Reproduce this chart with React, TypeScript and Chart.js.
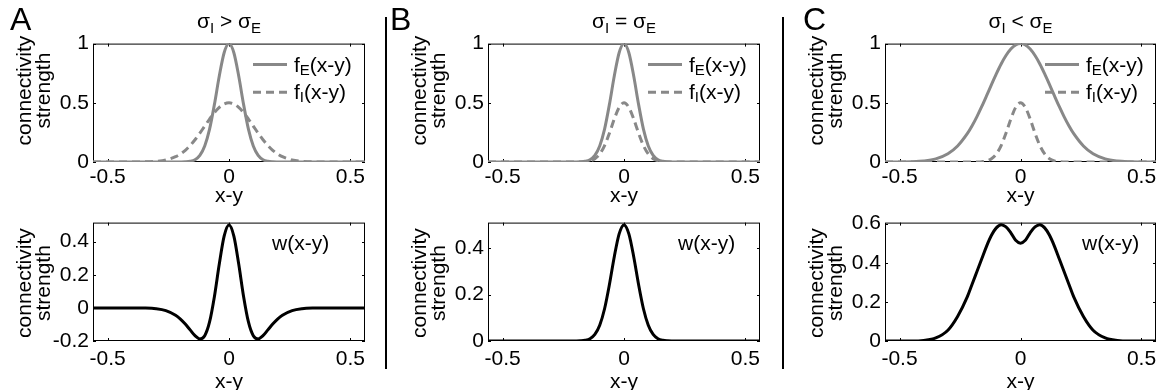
import React, { useEffect, useRef } from 'react';
import { Chart, registerables } from 'chart.js';

Chart.register(...registerables);

// ---------- data ----------
const xValues = [-0.56, -0.5, -0.45, -0.4, -0.35, -0.3, -0.26, -0.22, -0.2, -0.18, -0.16, -0.14, -0.12, -0.1, -0.08, -0.06, -0.04, -0.02, 0, 0.02, 0.04, 0.06, 0.08, 0.1, 0.12, 0.14, 0.16, 0.18, 0.2, 0.22, 0.26, 0.3, 0.35, 0.4, 0.45, 0.5, 0.56];

// Panel A (sigma_I > sigma_E)
const fE_A = [0, 0, 0, 0, 0, 0, 0, 0, 0.0003, 0.0015, 0.006, 0.0198, 0.0561, 0.1353, 0.278, 0.4868, 0.7261, 0.9231, 1, 0.9231, 0.7261, 0.4868, 0.278, 0.1353, 0.0561, 0.0198, 0.006, 0.0015, 0.0003, 0, 0, 0, 0, 0, 0, 0, 0];
const fI_A = [0, 0, 0, 0.0002, 0.0011, 0.0056, 0.017, 0.0445, 0.0677, 0.099, 0.139, 0.1877, 0.2434, 0.3033, 0.3631, 0.4177, 0.4616, 0.4901, 0.5, 0.4901, 0.4616, 0.4177, 0.3631, 0.3033, 0.2434, 0.1877, 0.139, 0.099, 0.0677, 0.0445, 0.017, 0.0056, 0.0011, 0.0002, 0, 0, 0];
const w_A = [0, 0, 0, -0.0002, -0.0011, -0.0056, -0.017, -0.0445, -0.0674, -0.0975, -0.133, -0.1679, -0.1873, -0.168, -0.0851, 0.0691, 0.2645, 0.433, 0.5, 0.433, 0.2645, 0.0691, -0.0851, -0.168, -0.1873, -0.1679, -0.133, -0.0975, -0.0674, -0.0445, -0.017, -0.0056, -0.0011, -0.0002, 0, 0, 0];

// Panel B (sigma_I = sigma_E)
const fE_B = [0, 0, 0, 0, 0, 0, 0, 0, 0.0003, 0.0015, 0.006, 0.0198, 0.0561, 0.1353, 0.278, 0.4868, 0.7261, 0.9231, 1, 0.9231, 0.7261, 0.4868, 0.278, 0.1353, 0.0561, 0.0198, 0.006, 0.0015, 0.0003, 0, 0, 0, 0, 0, 0, 0, 0];
const fI_B = [0, 0, 0, 0, 0, 0, 0, 0, 0.0002, 0.0008, 0.003, 0.0099, 0.0281, 0.0677, 0.139, 0.2434, 0.3631, 0.4616, 0.5, 0.4616, 0.3631, 0.2434, 0.139, 0.0677, 0.0281, 0.0099, 0.003, 0.0008, 0.0002, 0, 0, 0, 0, 0, 0, 0, 0];
const w_B = [0, 0, 0, 0, 0, 0, 0, 0, 0.0002, 0.0008, 0.003, 0.0099, 0.0281, 0.0677, 0.139, 0.2434, 0.3631, 0.4616, 0.5, 0.4616, 0.3631, 0.2434, 0.139, 0.0677, 0.0281, 0.0099, 0.003, 0.0008, 0.0002, 0, 0, 0, 0, 0, 0, 0, 0];

// Panel C (sigma_I < sigma_E)
const fE_C = [0.0001, 0.0006, 0.0025, 0.0088, 0.0267, 0.0698, 0.1353, 0.2389, 0.3062, 0.3834, 0.4689, 0.56, 0.6531, 0.7438, 0.8275, 0.899, 0.9538, 0.9882, 1, 0.9882, 0.9538, 0.899, 0.8275, 0.7438, 0.6531, 0.56, 0.4689, 0.3834, 0.3062, 0.2389, 0.1353, 0.0698, 0.0267, 0.0088, 0.0025, 0.0006, 0.0001];
const fI_C = [0, 0, 0, 0, 0, 0, 0, 0, 0.0002, 0.0008, 0.003, 0.0099, 0.0281, 0.0677, 0.139, 0.2434, 0.3631, 0.4616, 0.5, 0.4616, 0.3631, 0.2434, 0.139, 0.0677, 0.0281, 0.0099, 0.003, 0.0008, 0.0002, 0, 0, 0, 0, 0, 0, 0, 0];
const w_C = [0, 0, 0, 0.003, 0.016, 0.055, 0.125, 0.225, 0.29, 0.355, 0.42, 0.485, 0.54, 0.578, 0.594, 0.583, 0.553, 0.515, 0.5, 0.515, 0.553, 0.583, 0.594, 0.578, 0.54, 0.485, 0.42, 0.355, 0.29, 0.225, 0.125, 0.055, 0.016, 0.003, 0, 0, 0];

// tick values
const xTickValues = [-0.5, 0, 0.5];
const topYTickValues = [0, 0.5, 1];
const yTicksWA = [-0.2, 0, 0.2, 0.4];
const yTicksWB = [0, 0.2, 0.4];
const yTicksWC = [0, 0.2, 0.4, 0.6];

// labels
const panelLetters = ['A', 'B', 'C'];
const relations = ['>', '=', '<'];
const yAxisTitle = ['connectivity', 'strength'];
const xAxisTitle = 'x-y';

// ---------- styling ----------
const FONT_FAMILY = '"Liberation Sans", Arial, Helvetica, sans-serif';
const GRAY = '#888888';
const BLACK = '#000000';
const DASH = [8, 5];
const PAD_T = 14;
const PAD_R = 14;
const Y_AXIS_W = 90;
const X_MIN = -0.56;
const X_MAX = 0.56;

interface SeriesSpec { data: number[]; color: string; dash: number[]; order: number }
interface LegendSpec { base: string; sub: string; tail: string; color?: string; dash?: number[]; sample: boolean }
interface PanelSpec {
  id: string;
  boxL: number; boxT: number; boxW: number; boxH: number;
  yMin: number; yMax: number; yTicks: number[];
  series: SeriesSpec[];
  legend: LegendSpec[]; legendX: number; legendY: number; legendStep: number; textDx: number;
  tickPad: number; xTitleOffset: number; yTitleCenter: number;
}

const topLegend = (): LegendSpec[] => [
  { base: 'f', sub: 'E', tail: '(x-y)', color: GRAY, dash: [], sample: true },
  { base: 'f', sub: 'I', tail: '(x-y)', color: GRAY, dash: DASH, sample: true },
];
const wLegend = (): LegendSpec[] => [{ base: 'w(x-y)', sub: '', tail: '', sample: false }];

const colBoxes = [
  { L: 93, W: 272 },
  { L: 488, W: 272 },
  { L: 885, W: 271 },
];
const TOP_T = 41, TOP_H = 121, BOT_T = 220, BOT_H = 121;

const topSeries = [
  [fE_A, fI_A],
  [fE_B, fI_B],
  [fE_C, fI_C],
];
const bottomSeries = [w_A, w_B, w_C];
const bottomTicks = [yTicksWA, yTicksWB, yTicksWC];
const bottomRanges = [[-0.2, 0.515], [0, 0.51], [0, 0.605]];
const wLabelX = [179, 190, 197];

const panels: PanelSpec[] = [];
colBoxes.forEach((c, i) => {
  panels.push({
    id: 'top' + i,
    boxL: c.L, boxT: TOP_T, boxW: c.W, boxH: TOP_H,
    yMin: 0, yMax: 1, yTicks: topYTickValues,
    series: [
      { data: topSeries[i][0], color: GRAY, dash: [], order: 1 },
      { data: topSeries[i][1], color: GRAY, dash: DASH, order: 0 },
    ],
    legend: topLegend(), legendX: 160, legendY: 21, legendStep: 27.6, textDx: 41,
    tickPad: 3, xTitleOffset: 34, yTitleCenter: 47,
  });
  panels.push({
    id: 'bot' + i,
    boxL: c.L, boxT: BOT_T, boxW: c.W, boxH: BOT_H,
    yMin: bottomRanges[i][0], yMax: bottomRanges[i][1], yTicks: bottomTicks[i],
    series: [{ data: bottomSeries[i], color: BLACK, dash: [], order: 0 }],
    legend: wLegend(), legendX: wLabelX[i], legendY: 20, legendStep: 0, textDx: 0,
    tickPad: 6, xTitleOffset: 41, yTitleCenter: 60.5,
  });
});

function makeFramePlugin(yTicks: number[]) {
  return {
    id: 'matlabFrame',
    beforeDatasetsDraw(chart: any) {
      const { ctx, chartArea: a, scales } = chart;
      ctx.save();
      ctx.strokeStyle = '#000';
      ctx.lineWidth = 1;
      ctx.setLineDash([]);
      ctx.strokeRect(a.left + 0.5, a.top + 0.5, a.right - a.left - 1, a.bottom - a.top - 1);
      const t = 3;
      ctx.beginPath();
      for (const v of xTickValues) {
        const px = Math.round(scales.x.getPixelForValue(v)) + 0.5;
        ctx.moveTo(px, a.bottom); ctx.lineTo(px, a.bottom - t);
        ctx.moveTo(px, a.top); ctx.lineTo(px, a.top + t);
      }
      for (const v of yTicks) {
        const py = Math.round(scales.y.getPixelForValue(v)) + 0.5;
        ctx.moveTo(a.left, py); ctx.lineTo(a.left + t, py);
        ctx.moveTo(a.right, py); ctx.lineTo(a.right - t, py);
      }
      ctx.stroke();
      ctx.restore();
    },
  };
}

// rotated two-line y-axis title
function makeYTitlePlugin(spec: PanelSpec) {
  return {
    id: 'yTitle',
    afterDraw(chart: any) {
      const { ctx, chartArea: a } = chart;
      ctx.save();
      ctx.fillStyle = '#000';
      ctx.font = `21px ${FONT_FAMILY}`;
      ctx.textAlign = 'center';
      ctx.textBaseline = 'alphabetic';
      const cy = a.top + spec.yTitleCenter;
      yAxisTitle.forEach((line, i) => {
        const baseX = a.left - 62 + i * 19;
        ctx.save();
        ctx.translate(baseX, cy);
        ctx.rotate(-Math.PI / 2);
        ctx.fillText(line, 0, 0);
        ctx.restore();
      });
      ctx.restore();
    },
  };
}

function makeLegendPlugin(spec: PanelSpec) {
  return {
    id: 'subLegend',
    afterDatasetsDraw(chart: any) {
      const { ctx, chartArea: a } = chart;
      ctx.save();
      spec.legend.forEach((item, i) => {
        const cy = a.top + spec.legendY + i * spec.legendStep;
        let x = a.left + spec.legendX;
        if (item.sample) {
          ctx.strokeStyle = item.color || GRAY;
          ctx.lineWidth = 3;
          ctx.setLineDash(item.dash || []);
          ctx.beginPath();
          ctx.moveTo(x, cy);
          ctx.lineTo(x + 34, cy);
          ctx.stroke();
          ctx.setLineDash([]);
          x += spec.textDx;
        }
        ctx.fillStyle = '#000';
        ctx.textBaseline = 'alphabetic';
        ctx.textAlign = 'left';
        const base = cy + 7;
        ctx.font = `21px ${FONT_FAMILY}`;
        ctx.fillText(item.base, x, base);
        x += ctx.measureText(item.base).width;
        if (item.sub) {
          ctx.font = `15px ${FONT_FAMILY}`;
          ctx.fillText(item.sub, x, base + 3);
          x += ctx.measureText(item.sub).width;
        }
        if (item.tail) {
          ctx.font = `21px ${FONT_FAMILY}`;
          ctx.fillText(item.tail, x, base);
        }
      });
      ctx.restore();
    },
  };
}

function Panel({ spec }: { spec: PanelSpec }) {
  const ref = useRef<HTMLCanvasElement>(null);
  const xAxisH = spec.xTitleOffset + 16;
  const cw = Y_AXIS_W + spec.boxW + PAD_R;
  const ch = PAD_T + spec.boxH + xAxisH;

  useEffect(() => {
    if (!ref.current) return;
    const tickFont = { family: FONT_FAMILY, size: 21 };
    const chart = new Chart(ref.current, {
      type: 'line',
      data: {
        datasets: spec.series.map((s) => ({
          data: xValues.map((x, i) => ({ x, y: s.data[i] })),
          borderColor: s.color,
          borderWidth: 3,
          borderDash: s.dash,
          pointRadius: 0,
          fill: false,
          cubicInterpolationMode: 'monotone' as const,
          order: s.order,
        })),
      },
      options: {
        animation: false,
        responsive: false,
        maintainAspectRatio: false,
        devicePixelRatio: 1,
        layout: { padding: { left: 0, top: PAD_T, right: PAD_R, bottom: 0 } },
        plugins: { legend: { display: false }, tooltip: { enabled: false } },
        events: [],
        scales: {
          x: {
            type: 'linear',
            min: X_MIN,
            max: X_MAX,
            afterBuildTicks: (scale: any) => { scale.ticks = xTickValues.map((v) => ({ value: v })); },
            afterFit: (scale: any) => { scale.height = xAxisH; },
            grid: { display: false, drawTicks: false },
            border: { display: false },
            ticks: {
              font: tickFont, color: '#000', padding: spec.tickPad, maxRotation: 0, autoSkip: false,
              callback: (v: any) => String(v),
            },
            title: {
              display: true, text: xAxisTitle, color: '#000', font: tickFont,
              padding: { top: 0, bottom: 3.4 },
            },
          },
          y: {
            type: 'linear',
            min: spec.yMin,
            max: spec.yMax,
            afterBuildTicks: (scale: any) => { scale.ticks = spec.yTicks.map((v) => ({ value: v })); },
            afterFit: (scale: any) => { scale.width = Y_AXIS_W; },
            grid: { display: false, drawTicks: false },
            border: { display: false },
            ticks: {
              font: tickFont, color: '#000', padding: 4, autoSkip: false,
              callback: (v: any) => String(v),
            },
            title: { display: false },
          },
        },
      } as any,
      plugins: [makeFramePlugin(spec.yTicks), makeLegendPlugin(spec), makeYTitlePlugin(spec)],
    });
    return () => chart.destroy();
  }, []);

  return (
    <canvas
      ref={ref}
      width={cw}
      height={ch}
      style={{ position: 'absolute', left: spec.boxL - Y_AXIS_W, top: spec.boxT - PAD_T, width: cw, height: ch }}
    />
  );
}

const letterLeft = [10, 390, 803];
const separators = [386, 783];

export default function App() {
  return (
    <div style={{ position: 'absolute', left: 0, top: 0, width: 1165, height: 390, background: '#fff', overflow: 'hidden', fontFamily: FONT_FAMILY, color: '#000' }}>
      {panels.map((p) => <Panel key={p.id} spec={p} />)}
      {panelLetters.map((l, i) => (
        <div key={l} style={{ position: 'absolute', left: letterLeft[i], top: 1, fontSize: 32, lineHeight: '36px' }}>{l}</div>
      ))}
      {colBoxes.map((c, i) => (
        <div key={'t' + i} style={{ position: 'absolute', left: c.L, width: c.W, top: 9, textAlign: 'center', fontSize: 21, lineHeight: '24px', whiteSpace: 'nowrap' }}>
          σ<span style={{ fontSize: 15, position: 'relative', top: 5 }}>I</span> {relations[i]} σ<span style={{ fontSize: 15, position: 'relative', top: 5 }}>E</span>
        </div>
      ))}
      {separators.map((x) => (
        <div key={'s' + x} style={{ position: 'absolute', left: x - 1, top: 17, width: 2, height: 352, background: '#000' }} />
      ))}
    </div>
  );
}
